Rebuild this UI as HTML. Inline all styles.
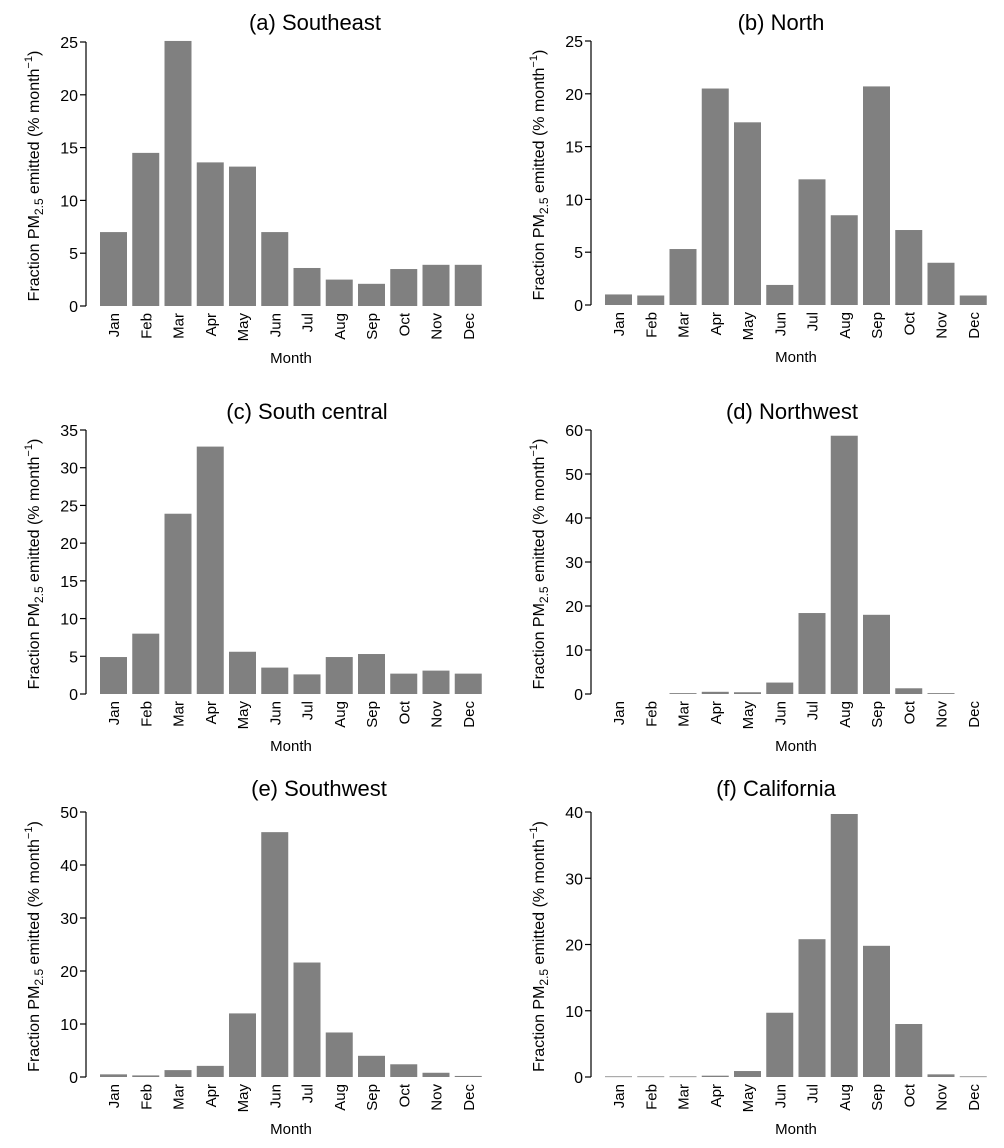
<!DOCTYPE html>
<html><head><meta charset="utf-8">
<style>
html,body{margin:0;padding:0;background:#fff;}
svg{display:block;font-family:"Liberation Sans",Arial,sans-serif;}
</style></head>
<body>
<svg id="fig" width="1004" height="1148" viewBox="0 0 1004 1148" xmlns="http://www.w3.org/2000/svg"></svg>
<script>
const months = ["Jan","Feb","Mar","Apr","May","Jun","Jul","Aug","Sep","Oct","Nov","Dec"];
const southeast = [7,14.5,25.1,13.6,13.2,7,3.6,2.5,2.1,3.5,3.9,3.9];
const north = [1,0.9,5.3,20.5,17.3,1.9,11.9,8.5,20.7,7.1,4,0.9];
const southCentral = [4.9,8,23.9,32.8,5.6,3.5,2.6,4.9,5.3,2.7,3.1,2.7];
const northwest = [0,0,0.2,0.5,0.4,2.6,18.4,58.7,18,1.3,0.2,0];
const southwest = [0.5,0.3,1.3,2.1,12,46.2,21.6,8.4,4,2.4,0.8,0.2];
const california = [0.1,0.1,0.1,0.2,0.9,9.7,20.8,39.7,19.8,8,0.4,0.1];
const ticksA = [0,5,10,15,20,25];
const ticksB = [0,5,10,15,20,25];
const ticksC = [0,5,10,15,20,25,30,35];
const ticksD = [0,10,20,30,40,50,60];
const ticksE = [0,10,20,30,40,50];
const ticksF = [0,10,20,30,40];

const NS="http://www.w3.org/2000/svg";
const svg=document.getElementById('fig');
function mk(tag,attrs,parent){const e=document.createElementNS(NS,tag);for(const k in attrs)e.setAttribute(k,attrs[k]);(parent||svg).appendChild(e);return e;}

const panels=[
 {id:'a',title:'(a) Southeast',vals:southeast,ticks:ticksA,ox:0,top:42,zero:306,tcx:315},
 {id:'b',title:'(b) North',vals:north,ticks:ticksB,ox:505,top:41,zero:305,tcx:781},
 {id:'c',title:'(c) South central',vals:southCentral,ticks:ticksC,ox:0,top:430,zero:694,tcx:307},
 {id:'d',title:'(d) Northwest',vals:northwest,ticks:ticksD,ox:505,top:430,zero:694,tcx:792},
 {id:'e',title:'(e) Southwest',vals:southwest,ticks:ticksE,ox:0,top:812,zero:1077,tcx:319},
 {id:'f',title:'(f) California',vals:california,ticks:ticksF,ox:505,top:812,zero:1077,tcx:776}
];
const titleY={42:30,41:30,430:419,812:796};

panels.forEach(p=>{
  const g=mk('g',{});
  
  
  const axX=86+p.ox;
  const max=p.ticks[p.ticks.length-1];
  const y=v=>p.zero-(v/max)*(p.zero-p.top);
  const pitch=32.25, bw=27, x0=100+p.ox;
  const xb=i=>x0+i*pitch;
  const t=mk('text',{x:p.tcx,y:titleY[p.top],'text-anchor':'middle','font-size':22,fill:'#000'},g);
  t.textContent=p.title;
  
  
  p.vals.forEach((v,i)=>{
    if(v>0){
      const r=mk('rect',{x:xb(i),y:y(v),width:bw,height:Math.max(p.zero-y(v),0.8),fill:'#808080'},g);
      
      
    }
    const lx=xb(i)+bw/2+5.5, ly=p.zero+7;
    const ml=mk('text',{x:lx,y:ly,'text-anchor':'end','font-size':15,transform:`rotate(-90 ${lx} ${ly})`},g);
    ml.textContent=months[i];
    
    
  });
  const ax=mk('line',{x1:axX,y1:y(max),x2:axX,y2:p.zero,stroke:'#000','stroke-width':1.2},g);
  
  
  p.ticks.forEach(tv=>{
    mk('line',{x1:axX-6,y1:y(tv),x2:axX,y2:y(tv),stroke:'#000','stroke-width':1.2},g);
    const tl=mk('text',{x:axX-8,y:y(tv)+6,'text-anchor':'end','font-size':16},g);
    tl.textContent=tv;
    
    
  });
  const xt=mk('text',{x:x0+191,y:p.zero+57,'text-anchor':'middle','font-size':15},g);
  xt.textContent='Month';
  
  
  const cx=39+p.ox, cy=(p.top+p.zero)/2+2;
  const yt=mk('text',{x:cx,y:cy,'text-anchor':'middle','font-size':16,transform:`rotate(-90 ${cx} ${cy})`},g);
  yt.innerHTML='Fraction PM<tspan font-size="12" dy="4">2.5</tspan><tspan dy="-4"> emitted (%  month</tspan><tspan font-size="11" dy="-7">−1</tspan><tspan dy="7">)</tspan>';
  
  
});
</script>
</body></html>
